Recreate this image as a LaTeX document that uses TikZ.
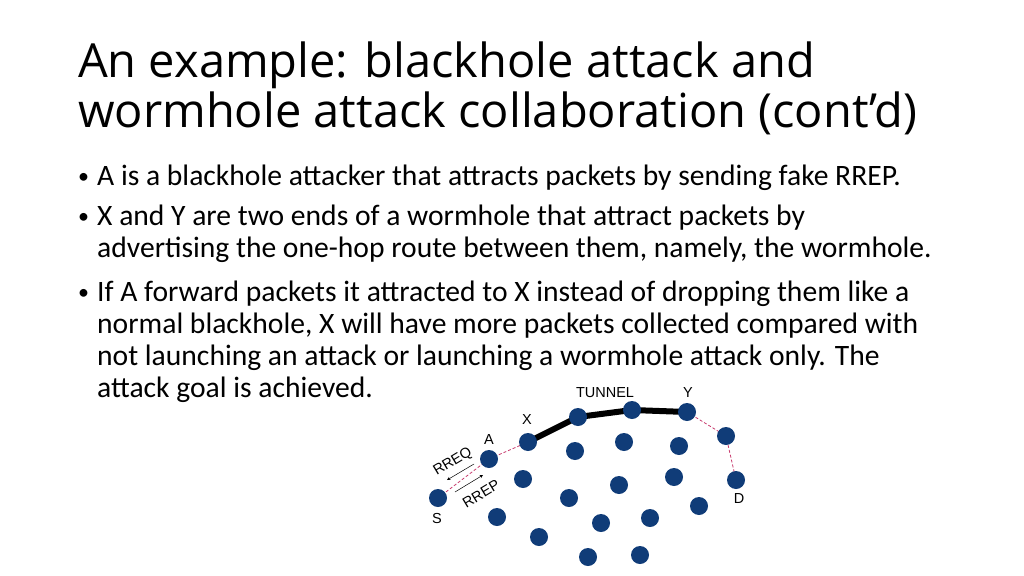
\documentclass[tikz,border=0pt]{standalone}
\usepackage{fontspec}
\setmainfont{Carlito}
\newfontfamily\titlefont{Open Sans}
\newfontfamily\labfont{Liberation Sans}
\begin{document}
\begin{tikzpicture}[x=1pt,y=-1pt,
  dot/.style={circle,draw=none,minimum size=18pt,inner sep=0pt},
  ttl/.style={anchor=base west,inner sep=0pt,font=\titlefont\fontsize{47}{47}\selectfont},
  bl/.style={anchor=base west,inner sep=0pt,font=\fontsize{29.6}{29.6}\selectfont},
  bu/.style={anchor=base west,inner sep=0pt,font=\fontsize{22}{22}\selectfont},
  lab/.style={inner sep=0pt,font=\labfont\fontsize{14.5}{14.5}\selectfont},
  pth/.style={densely dashed,draw=pk,line width=0.8pt},
  tun/.style={line width=6pt,line join=round}]
\useasboundingbox (0,0) rectangle (1024,575);
\definecolor{nd}{RGB}{16,60,120}
\definecolor{pk}{RGB}{200,60,110}
\tikzset{dot/.append style={fill=nd}}
\node[ttl] (t1) at (78,78) {An example: blackhole attack and};
\node[ttl] (t2) at (78,128) {wormhole attack collaboration (cont’d)};
\node[bu] (b1) at (78,183) {•};
\node[bl] (l1) at (97,185) {A is a blackhole attacker that attracts packets by sending fake RREP.};
\node[bu] (b2) at (78,223) {•};
\node[bl] (l2) at (97,225) {X and Y are two ends of a wormhole that attract packets by};
\node[bl] (l3) at (97,257) {advertising the one-hop route between them, namely, the wormhole.};
\node[bu] (b3) at (78,299) {•};
\node[bl] (l4) at (97,301) {If A forward packets it attracted to X instead of dropping them like a};
\node[bl] (l5) at (97,333) {normal blackhole, X will have more packets collected compared with};
\node[bl] (l6) at (97,365) {not launching an attack or launching a wormhole attack only. The};
\node[bl] (l7) at (97,397) {attack goal is achieved.};
% path
\draw[pth] (438,498) -- (489,459) -- (528,442);
\draw[pth] (687,412) -- (726,436) -- (736,480);
\draw[tun] (528,442) -- (578,417) -- (632,410) -- (687,412);
\node[dot] (S) at (438,498) {};
\node[dot] (A) at (489,459) {};
\node[dot] (X) at (528,442) {};
\node[dot] (T1) at (578,417) {};
\node[dot] (T2) at (632,410) {};
\node[dot] (Y) at (687,412) {};
\node[dot] (R) at (726,436) {};
\node[dot] (D) at (736,480) {};
\foreach \n/\p in {n1/{575,451},n2/{624,442},n3/{679,446},n4/{523,479},n5/{619,485},n6/{674,477},n7/{569,498},n8/{699,506},n9/{497,517},n10/{601,523},n11/{650,518},n12/{539,537},n13/{588,557},n14/{640,555}}
  \node[dot] (\n) at (\p) {};
\node[lab] (lS) at (437,519) {S};
\node[lab] (lA) at (489,440) {A};
\node[lab] (lX) at (527,420) {X};
\node[lab] (lY) at (688,393) {Y};
\node[lab] (lD) at (739,499) {D};
\node[lab] (lT) at (605,393) {TUNNEL};
\node[lab,rotate=31] (lq) at (453,462) {RREQ};
\node[lab,rotate=31] (lp) at (481,494) {RREP};
\coordinate (q1) at (474,464); \coordinate (q2) at (447,480);
\coordinate (p1) at (455,492); \coordinate (p2) at (483,475);
\draw[-stealth,line width=0.5pt] (q1) -- (q2);
\draw[-stealth,line width=0.5pt] (p1) -- (p2);
\end{tikzpicture}
\end{document}
